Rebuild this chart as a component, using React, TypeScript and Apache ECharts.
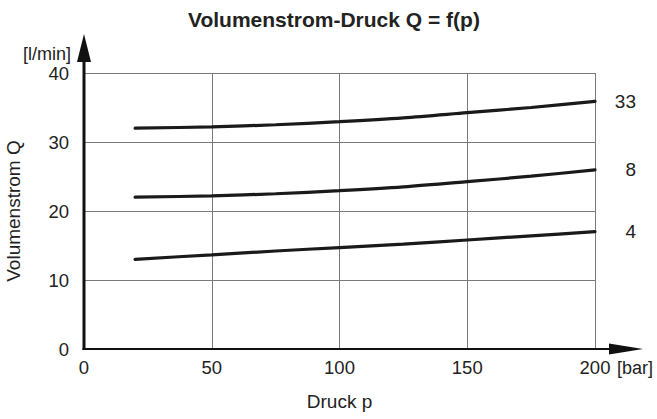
import React, { useEffect, useRef } from "react";
import * as echarts from "echarts";

const pressure = [20, 50, 75, 100, 125, 150, 175, 200];
const flow33 = [32, 32.2, 32.5, 32.95, 33.5, 34.25, 35.0, 35.9];
const flow8 = [22, 22.2, 22.5, 22.95, 23.5, 24.25, 25.05, 25.95];
const flow4 = [13, 13.65, 14.2, 14.7, 15.2, 15.8, 16.4, 17.0];
const seriesNames = ["33", "8", "4"];
const xTicks = [0, 50, 100, 150, 200];
const yTicks = [0, 10, 20, 30, 40];

const FONT = "Liberation Sans, Arial, sans-serif";
const TXT = "#222";

export default function App() {
  const ref = useRef<HTMLDivElement>(null);
  useEffect(() => {
    const chart = echarts.init(ref.current!, null, { renderer: "svg" });
    const mk = (name: string, vals: number[]) => ({
      name,
      type: "line",
      smooth: 0.3,
      symbol: "none",
      data: pressure.map((p, i) => [p, vals[i]]),
      lineStyle: { color: "#1a1a1a", width: 3.2, cap: "round" },
      endLabel: {
        show: true,
        formatter: "{a}",
        distance: 41,
        align: "right",
        color: TXT,
        fontFamily: FONT,
        fontSize: 19,
      },
    });
    chart.setOption({
      animation: false,
      textStyle: { fontFamily: FONT },
      title: {
        text: "Volumenstrom-Druck Q = f(p)",
        left: 183,
        top: 4,
        textStyle: { fontFamily: FONT, fontSize: 21, fontWeight: "bold", color: TXT },
      },
      grid: { left: 84, right: 62, top: 73, bottom: 70, containLabel: false, outerBoundsMode: "none" },
      xAxis: {
        type: "value",
        min: xTicks[0],
        max: xTicks[xTicks.length - 1],
        interval: 50,
        name: "Druck p",
        nameLocation: "middle",
        nameGap: 43,
        nameTextStyle: { color: TXT, fontSize: 19, fontFamily: FONT },
        axisLine: { show: false },
        axisTick: { show: false },
        axisLabel: { color: TXT, fontSize: 18.5, margin: 9, fontFamily: FONT },
        splitLine: { show: true, lineStyle: { color: "#7a7a7a", width: 1 } },
      },
      yAxis: {
        type: "value",
        min: yTicks[0],
        max: yTicks[yTicks.length - 1],
        interval: 10,
        name: "Volumenstrom Q",
        nameLocation: "middle",
        nameGap: 61,
        nameTextStyle: { color: TXT, fontSize: 19, fontFamily: FONT },
        axisLine: { show: false },
        axisTick: { show: false },
        axisLabel: { color: TXT, fontSize: 18.5, lineHeight: 16, margin: 15, fontFamily: FONT },
        splitLine: { show: true, lineStyle: { color: "#7a7a7a", width: 1 } },
      },
      series: [mk(seriesNames[0], flow33), mk(seriesNames[1], flow8), mk(seriesNames[2], flow4)],
    });

    const o = chart.convertToPixel({ gridIndex: 0 }, [0, 0]) as number[];
    const xe = chart.convertToPixel({ gridIndex: 0 }, [200, 40]) as number[];
    const ox = o[0], oy = o[1];
    const yTop = xe[1];
    const xRight = xe[0];
    chart.setOption({
      graphic: [
        { type: "line", shape: { x1: ox, y1: oy + 1, x2: ox, y2: yTop - 12 }, style: { stroke: "#111", lineWidth: 3 }, z: 100 },
        { type: "polygon", shape: { points: [[ox - 7, yTop - 11], [ox + 7, yTop - 11], [ox, yTop - 39]] }, style: { fill: "#111" }, z: 100 },
        { type: "line", shape: { x1: ox - 1.5, y1: oy, x2: xRight + 16, y2: oy }, style: { stroke: "#111", lineWidth: 2 }, z: 100 },
        { type: "polygon", shape: { points: [[xRight + 14, oy - 5.5], [xRight + 14, oy + 5.5], [xRight + 48, oy]] }, style: { fill: "#111" }, z: 100 },
        { type: "text", x: ox - 13, y: yTop - 19, style: { text: "[l/min]", fill: TXT, font: `18px ${FONT}`, lineHeight: 16, align: "right", verticalAlign: "middle" }, z: 100 },
        { type: "text", x: xRight + 22, y: oy + 19, style: { text: "[bar]", fill: TXT, font: `18px ${FONT}`, align: "left", verticalAlign: "middle" }, z: 100 },
      ],
    });
    return () => chart.dispose();
  }, []);
  return <div ref={ref} style={{ position: "absolute", left: 0, top: 0, width: 657, height: 419, background: "#fff" }} />;
}
